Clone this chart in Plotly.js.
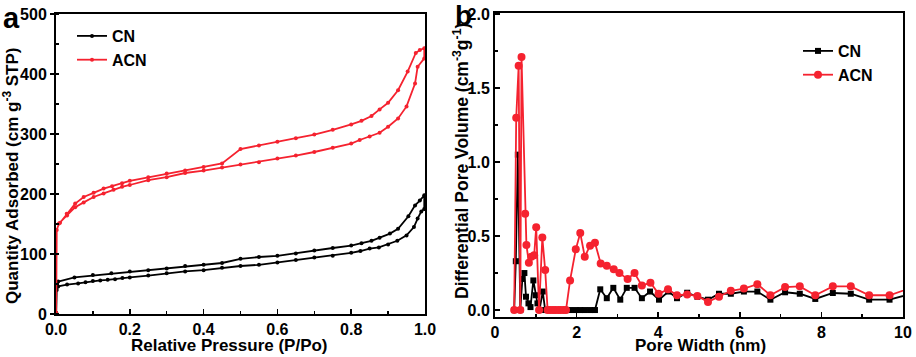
<!DOCTYPE html>
<html>
<head>
<meta charset="utf-8">
<script src="https://cdn.plot.ly/plotly-3.0.1.min.js"></script>
<style>html,body{margin:0;padding:0;background:#fff;}#chart{width:916px;height:357px;}</style>
</head>
<body>
<div id="chart"></div>
<script>
// ---- Panel a: N2 isotherms ----
const cnAdsP = [0.0005, 0.002, 0.006, 0.03, 0.06, 0.08, 0.10, 0.12, 0.14, 0.16, 0.18, 0.20, 0.25, 0.30, 0.35, 0.40, 0.45, 0.50, 0.55, 0.60, 0.65, 0.70, 0.75, 0.80, 0.825, 0.85, 0.875, 0.90, 0.925, 0.95, 0.97, 0.98, 0.99, 0.998];
const cnAdsV = [2, 40, 46, 49, 51, 53, 55, 56, 57, 58, 60, 61, 64, 68, 71, 73, 77, 80, 82, 86, 90, 94, 97, 102, 105, 109, 111, 116, 122, 131, 145, 159, 171, 175];
const cnDesP = [0.998, 0.986, 0.973, 0.955, 0.927, 0.905, 0.877, 0.855, 0.828, 0.80, 0.75, 0.70, 0.65, 0.60, 0.55, 0.50, 0.45, 0.40, 0.35, 0.30, 0.25, 0.20, 0.15, 0.10, 0.05, 0.006];
const cnDesV = [198, 189, 181, 163, 142, 134, 127, 122, 118, 114, 110, 106, 101, 97, 95, 92, 85, 82, 80, 76, 73, 71, 68, 65, 61, 54];

const acnAdsP = [0.0005, 0.002, 0.008, 0.03, 0.052, 0.075, 0.102, 0.129, 0.156, 0.179, 0.20, 0.25, 0.30, 0.35, 0.40, 0.45, 0.50, 0.55, 0.60, 0.65, 0.70, 0.75, 0.80, 0.823, 0.85, 0.877, 0.90, 0.927, 0.95, 0.973, 0.98, 0.998];
const acnAdsV = [2, 140, 151, 164, 178, 186, 195, 201, 207, 212, 215, 223, 228, 235, 239, 244, 249, 253, 259, 264, 270, 277, 284, 290, 296, 302, 312, 326, 346, 384, 412, 426];
const acnDesP = [0.998, 0.986, 0.975, 0.953, 0.927, 0.90, 0.877, 0.855, 0.828, 0.80, 0.75, 0.70, 0.65, 0.60, 0.55, 0.50, 0.45, 0.40, 0.35, 0.30, 0.25, 0.20, 0.179, 0.152, 0.129, 0.102, 0.075, 0.052, 0.029, 0.011];
const acnDesV = [443, 440, 435, 404, 373, 352, 341, 330, 322, 316, 307, 299, 293, 287, 281, 275, 251, 245, 239, 234, 228, 222, 218, 213, 209, 202, 195, 184, 167, 152];

// ---- Panel b: pore size distribution ----
const cnW = [0.47, 0.51, 0.56, 0.62, 0.67, 0.72, 0.76, 0.82, 0.87, 0.94, 1.00, 1.04, 1.09, 1.17, 1.23, 1.29, 1.35, 1.42, 1.48, 1.55, 1.61, 1.68, 1.74, 1.84, 1.98, 2.09, 2.20, 2.33, 2.45, 2.58, 2.74, 2.90, 3.07, 3.23, 3.42, 3.60, 3.80, 4.02, 4.25, 4.46, 4.71, 4.96, 5.22, 5.49, 5.78, 6.10, 6.43, 6.75, 7.11, 7.47, 7.85, 8.28, 8.72, 9.17, 9.67, 10.2];
const cnDV = [0, 0.33, 1.05, 0, 0.21, 0.25, 0.09, 0.045, 0.02, 0.20, 0.10, 0.045, 0, 0.125, 0, 0, 0, 0, 0, 0, 0, 0, 0, 0, 0, 0, 0, 0, 0, 0.14, 0.08, 0.15, 0.07, 0.15, 0.15, 0.08, 0.125, 0.07, 0.125, 0.08, 0.117, 0.09, 0.07, 0.11, 0.11, 0.125, 0.125, 0.07, 0.12, 0.11, 0.075, 0.115, 0.11, 0.07, 0.07, 0.11];
const acnW = [0.47, 0.52, 0.58, 0.62, 0.65, 0.74, 0.77, 0.83, 0.89, 0.96, 1.01, 1.08, 1.16, 1.23, 1.29, 1.35, 1.42, 1.48, 1.55, 1.61, 1.68, 1.74, 1.84, 1.98, 2.09, 2.20, 2.33, 2.45, 2.59, 2.74, 2.91, 3.05, 3.25, 3.42, 3.60, 3.81, 4.01, 4.24, 4.46, 4.71, 4.96, 5.22, 5.49, 5.78, 6.10, 6.43, 6.75, 7.11, 7.47, 7.85, 8.28, 8.72, 9.17, 9.67, 10.2];
const acnDV = [0, 1.30, 1.65, 0, 1.71, 0.65, 0.44, 0.32, 0.36, 0.37, 0.56, 0, 0.49, 0.27, 0, 0, 0, 0, 0, 0, 0, 0, 0.20, 0.41, 0.52, 0.36, 0.435, 0.455, 0.315, 0.30, 0.275, 0.25, 0.21, 0.25, 0.165, 0.185, 0.11, 0.14, 0.10, 0.105, 0.095, 0.055, 0.09, 0.13, 0.145, 0.175, 0.10, 0.155, 0.16, 0.10, 0.16, 0.16, 0.10, 0.10, 0.15];

const RED = '#f5222f';
const FONT = 'Liberation Sans, Arial, sans-serif';

const traces = [
  {x: cnAdsP.concat(cnDesP), y: cnAdsV.concat(cnDesV), name: 'CN', xaxis: 'x', yaxis: 'y', legend: 'legend',
   mode: 'lines+markers', line: {color: '#000', width: 1.8}, marker: {symbol: 'circle', size: 4, color: '#000'}},
  {x: acnAdsP.concat(acnDesP), y: acnAdsV.concat(acnDesV), name: 'ACN', xaxis: 'x', yaxis: 'y', legend: 'legend',
   mode: 'lines+markers', line: {color: RED, width: 1.8}, marker: {symbol: 'circle', size: 4, color: RED}},
  {x: cnW, y: cnDV, name: 'CN', xaxis: 'x2', yaxis: 'y2', legend: 'legend2',
   mode: 'lines+markers', line: {color: '#000', width: 1.8}, marker: {symbol: 'square', size: 6, color: '#000'}},
  {x: acnW, y: acnDV, name: 'ACN', xaxis: 'x2', yaxis: 'y2', legend: 'legend2',
   mode: 'lines+markers', line: {color: RED, width: 1.8}, marker: {symbol: 'circle', size: 8, color: RED}}
];

const tickF = {family: FONT, size: 16, color: '#000', weight: 'bold'};
const W = 916, H = 357;
function fx(p) { return p / W; }
function fy(p) { return 1 - p / H; }

function axisBase(extra) {
  return Object.assign({
    showgrid: false, zeroline: false, showline: true, mirror: true, linecolor: '#000', linewidth: 2,
    tickwidth: 1.5, tickcolor: '#000', tickfont: tickF
  }, extra);
}

const layout = {
  width: W, height: H,
  margin: {l: 0, r: 0, t: 0, b: 0},
  paper_bgcolor: '#fff', plot_bgcolor: '#fff',
  showlegend: true,
  font: {family: FONT, color: '#000'},
  xaxis: axisBase({
    domain: [fx(56), fx(425)], anchor: 'y', range: [0, 1], dtick: 0.2, tickformat: '.1f',
    ticks: 'inside', ticklen: 5,
    minor: {ticks: 'inside', ticklen: 3, dtick: 0.1, tickcolor: '#000', tickwidth: 1.5}
  }),
  yaxis: axisBase({
    domain: [fy(314), fy(14)], anchor: 'x', range: [0, 500], dtick: 100,
    ticks: 'outside', ticklen: 4,
    minor: {ticks: 'inside', ticklen: 3, dtick: 50, tickcolor: '#000', tickwidth: 1.5}
  }),
  xaxis2: axisBase({
    domain: [fx(495), fx(903)], anchor: 'y2', range: [0, 10], dtick: 2,
    ticks: 'inside', ticklen: 5,
    minor: {ticks: 'inside', ticklen: 3, dtick: 1, tickcolor: '#000', tickwidth: 1.5}
  }),
  yaxis2: axisBase({
    domain: [fy(317), fy(13)], anchor: 'x2', range: [-0.047, 2.007], tickvals: [0, 0.5, 1.0, 1.5, 2.0], tickformat: '.1f',
    ticks: 'inside', ticklen: 5,
    minor: {ticks: 'inside', ticklen: 3, tickvals: [0.25, 0.75, 1.25, 1.75], tickcolor: '#000', tickwidth: 1.5}
  }),
  legend: {
    x: fx(72), y: fy(19), xanchor: 'left', yanchor: 'top', bgcolor: 'rgba(0,0,0,0)',
    font: {family: FONT, size: 16, color: '#000', weight: 'bold'}, tracegroupgap: 0
  },
  legend2: {
    x: fx(798), y: fy(34), xanchor: 'left', yanchor: 'top', bgcolor: 'rgba(0,0,0,0)',
    font: {family: FONT, size: 16, color: '#000', weight: 'bold'}, tracegroupgap: 0
  },
  annotations: [
    {text: 'a', x: fx(1), y: fy(0), xref: 'paper', yref: 'paper', xanchor: 'left', yanchor: 'top', showarrow: false,
     font: {family: FONT, size: 29, color: '#000', weight: 'bold'}},
    {text: 'b', x: fx(453), y: fy(-2), xref: 'paper', yref: 'paper', xanchor: 'left', yanchor: 'top', showarrow: false,
     font: {family: FONT, size: 28, color: '#000', weight: 'bold'}},
    {text: 'Relative Pressure (P/Po)', x: fx(230), y: fy(345.5), xref: 'paper', yref: 'paper', xanchor: 'center', yanchor: 'middle', showarrow: false,
     font: {family: FONT, size: 17, color: '#000', weight: 'bold'}},
    {text: 'Pore Width (nm)', x: fx(700), y: fy(345), xref: 'paper', yref: 'paper', xanchor: 'center', yanchor: 'middle', showarrow: false,
     font: {family: FONT, size: 17, color: '#000', weight: 'bold'}},
    {text: 'Quantity Adsorbed (cm g<sup>-3</sup> STP)', x: fx(11), y: fy(176), xref: 'paper', yref: 'paper', xanchor: 'center', yanchor: 'middle', showarrow: false, textangle: -90,
     font: {family: FONT, size: 17, color: '#000', weight: 'bold'}},
    {text: 'Differential Pore Volume (cm<sup>-3</sup>g<sup>-1</sup>)', x: fx(461), y: fy(161), xref: 'paper', yref: 'paper', xanchor: 'center', yanchor: 'middle', showarrow: false, textangle: -90,
     font: {family: FONT, size: 17.5, color: '#000', weight: 'bold'}}
  ]
};

Plotly.newPlot('chart', traces, layout, {staticPlot: true, displayModeBar: false});
</script>
</body>
</html>
